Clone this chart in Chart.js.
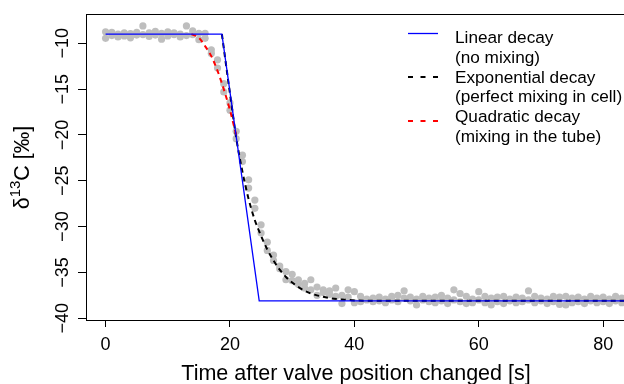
<!DOCTYPE html>
<html>
<head>
<meta charset="utf-8">
<script src="https://cdn.jsdelivr.net/npm/chart.js@4.4.0/dist/chart.umd.min.js"></script>
<style>
  html, body { margin:0; padding:0; background:#fff; overflow:hidden; width:624px; height:384px; }
  #c { display:block; }
</style>
</head>
<body>
<canvas id="c" width="660" height="384" style="width:660px;height:384px"></canvas>
<script>
// --- measured samples (two readings per second) ---
const times = [0,1,2,3,4,5,6,7,8,9,10,11,12,13,14,15,16,17,18,19,20,21,22,23,24,25,26,27,28,29,
  30,31,32,33,34,35,36,37,38,39,40,41,42,43,44,45,46,47,48,49,50,51,52,53,54,55,56,57,58,59,
  60,61,62,63,64,65,66,67,68,69,70,71,72,73,74,75,76,77,78,79,80,81,82,83];
const deltaA = [-8.75,-8.8,-9.0,-8.85,-8.95,-8.8,-8.1,-8.85,-8.7,-8.9,-8.75,-8.85,-9.0,-8.1,-8.65,-8.9,-8.9,
  -10.7,-11.8,-14.4,-16.5,-19.6,-22.2,-24.9,-27.1,-29.8,-31.7,-33.1,-34.3,-34.9,
  -35.2,-35.8,-36.2,-35.8,-36.6,-36.9,-37.0,-36.7,-37.5,-36.9,-37.1,-37.6,-37.9,-37.8,-37.7,-37.9,-37.6,-37.5,-37.0,-37.7,
  -37.9,-37.6,-37.8,-37.7,-37.5,-37.8,-36.9,-37.3,-37.6,-37.9,-37.1,-37.6,-37.8,-37.7,-37.6,-37.9,-37.7,-37.8,-37.0,-37.6,
  -37.8,-37.9,-37.6,-37.7,-37.6,-37.8,-37.7,-37.9,-37.6,-37.8,-37.7,-37.9,-37.6,-37.8];
const deltaB = [-9.45,-9.15,-9.3,-9.2,-9.4,-9.1,-9.05,-9.25,-9.1,-9.55,-9.2,-9.05,-9.3,-9.15,-9.05,-9.6,-9.45,
  -11.1,-12.7,-15.3,-17.3,-20.4,-22.9,-25.8,-28.0,-30.7,-32.6,-33.7,-34.6,-35.8,
  -35.9,-36.3,-36.7,-36.9,-37.5,-37.2,-37.4,-37.6,-38.4,-37.7,-38.3,-38.2,-38.0,-38.2,-38.1,-38.3,-38.0,-38.2,-37.8,-38.1,
  -38.55,-38.0,-38.2,-38.3,-38.1,-38.4,-38.0,-38.2,-38.4,-38.3,-38.0,-38.3,-38.55,-38.2,-38.4,-38.1,-38.3,-38.2,-38.0,-38.3,
  -38.1,-38.4,-38.2,-38.5,-38.55,-38.3,-38.2,-38.4,-38.1,-38.3,-38.2,-38.4,-38.1,-38.3];

// --- model curves ---
const linearT = [0, 18.7, 24.7, 90];
const linearD = [-9.0, -9.0, -38.1, -38.1];
const expT = [18.7, 20, 21, 22, 23, 24, 25, 26, 27, 28, 29, 30, 31, 32, 33, 34, 36, 38, 40, 45, 50, 90];
const expD = [-9.0, -15.5, -20.3, -24.0, -27.0, -29.3, -31.0, -32.5, -33.7, -34.7, -35.5, -36.1, -36.6, -37.0, -37.3, -37.5, -37.8, -37.95, -38.05, -38.1, -38.1, -38.1];
const quadT = [13.8, 15, 16, 17, 18, 19, 20, 21];
const quadD = [-9.0, -9.4, -10.3, -11.4, -13.0, -15.0, -17.3, -20.0];

const xTicks = [0, 20, 40, 60, 80];
const yTicks = [-40, -35, -30, -25, -20, -15, -10];

const legendLabels = ['Linear decay', '(no mixing)', 'Exponential decay', '(perfect mixing in cell)', 'Quadratic decay', '(mixing in the tube)'];

const FONT = '"Liberation Sans", Arial, Helvetica, sans-serif';

const zip = (xs, ys) => xs.map((x, i) => ({ x, y: ys[i] }));
const samples = times.flatMap((t, i) => [{ x: t, y: deltaA[i] }, { x: t, y: deltaB[i] }]);

// R-style decorations: box, rotated tick labels, titles, legend
const decor = {
  id: 'decor',
  afterDraw(chart){
    const { ctx, chartArea: a, scales: { x, y } } = chart;
    ctx.save();
    ctx.strokeStyle = '#000'; ctx.lineWidth = 1; ctx.setLineDash([]);
    ctx.strokeRect(Math.round(a.left) + 0.5, Math.round(a.top) - 0.5, a.right - a.left + 10, Math.round(a.bottom) - Math.round(a.top) + 1);

    ctx.fillStyle = '#000';
    ctx.font = '18px ' + FONT;
    ctx.textAlign = 'center'; ctx.textBaseline = 'alphabetic';
    xTicks.forEach(v => ctx.fillText(String(v), x.getPixelForValue(v), 350));
    yTicks.forEach(v => {
      ctx.save();
      ctx.translate(68, y.getPixelForValue(v));
      ctx.rotate(-Math.PI / 2);
      ctx.fillText(String(v).replace('-', '\u2212'), 0, 0);
      ctx.restore();
    });

    ctx.font = '21.5px ' + FONT;
    ctx.fillText('Time after valve position changed [s]', 356, 379.5);

    // y title: δ^13C [‰]
    ctx.save();
    ctx.translate(29, (a.top + a.bottom) / 2);
    ctx.rotate(-Math.PI / 2);
    ctx.textAlign = 'left';
    const big = '21.5px ' + FONT, small = '15px ' + FONT;
    ctx.font = big; const w1 = ctx.measureText('\u03b4').width, w3 = ctx.measureText('C [\u2030]').width;
    ctx.font = small; const w2 = ctx.measureText('13').width;
    let cx = -(w1 + w2 + w3) / 2;
    ctx.font = big; ctx.fillText('\u03b4', cx, 0); cx += w1;
    ctx.font = small; ctx.fillText('13', cx, -9); cx += w2;
    ctx.font = big; ctx.fillText('C [\u2030]', cx, 0);
    ctx.restore();

    // legend
    ctx.font = '17.2px ' + FONT;
    ctx.textAlign = 'left';
    legendLabels.forEach((s, i) => ctx.fillText(s, 455, 42.8 + i * 19.85));
    const sym = [
      { y: 33.5, color: 'blue', w: 1.3, dash: [] },
      { y: 77, color: '#000', w: 2, dash: [5, 7.5] },
      { y: 121, color: 'red', w: 2, dash: [5, 7.5] }
    ];
    sym.forEach(s => {
      ctx.beginPath();
      ctx.strokeStyle = s.color; ctx.lineWidth = s.w; ctx.setLineDash(s.dash);
      ctx.moveTo(408, s.y); ctx.lineTo(438, s.y); ctx.stroke();
    });
    ctx.restore();
  }
};

new Chart(document.getElementById('c'), {
  type: 'scatter',
  data: {
    datasets: [
      { data: zip(linearT, linearD), showLine: true, borderColor: 'blue', borderWidth: 1.3, pointRadius: 0, tension: 0 },
      { data: zip(quadT, quadD), showLine: true, borderColor: 'red', borderWidth: 2, borderDash: [5, 4], pointRadius: 0, cubicInterpolationMode: 'monotone' },
      { data: zip(expT, expD), showLine: true, borderColor: '#000', borderWidth: 2, borderDash: [5, 4], pointRadius: 0, cubicInterpolationMode: 'monotone' },
      { data: samples, showLine: false, pointRadius: 3.6, pointBackgroundColor: '#bebebe', pointBorderWidth: 0, borderColor: '#bebebe' }
    ]
  },
  options: {
    responsive: false, animation: false, events: [],
    layout: { padding: { top: 15, right: 0, bottom: 0, left: 0 } },
    plugins: { legend: { display: false }, tooltip: { enabled: false } },
    scales: {
      x: {
        type: 'linear', min: -3.15, max: 88.5,
        afterBuildTicks: s => { s.ticks = xTicks.map(v => ({ value: v })); },
        afterFit: s => { s.height = 64; },
        ticks: { display: false },
        border: { display: false },
        grid: { display: true, drawOnChartArea: false, drawTicks: true, tickLength: 7, color: '#000', lineWidth: 1 }
      },
      y: {
        type: 'linear', min: -40.19, max: -6.91,
        afterBuildTicks: s => { s.ticks = yTicks.map(v => ({ value: v })); },
        afterFit: s => { s.width = 86; },
        ticks: { display: false },
        border: { display: false },
        grid: { display: true, drawOnChartArea: false, drawTicks: true, tickLength: 8, color: '#000', lineWidth: 1 }
      }
    }
  },
  plugins: [decor]
});
</script>
</body>
</html>
